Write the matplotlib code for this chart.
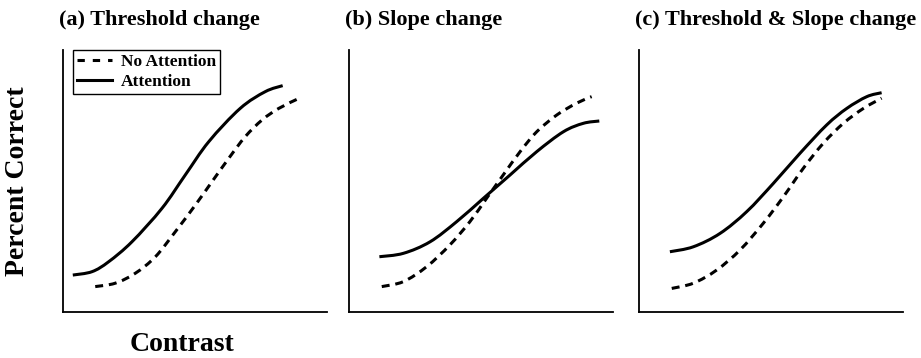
import matplotlib
matplotlib.use("Agg")
import numpy as np
import matplotlib.pyplot as plt
from matplotlib.path import Path
from matplotlib.patches import PathPatch
from matplotlib.lines import Line2D

plt.rcParams["font.family"] = ["Liberation Serif", "DejaVu Serif"]
plt.rcParams["font.weight"] = "bold"

panel_titles = ["(a) Threshold change", "(b) Slope change", "(c) Threshold & Slope change"]
legend_labels = ["No Attention", "Attention"]
y_label = "Percent Correct"
x_label = "Contrast"

# (a) threshold shift: same slope, curve moved toward lower contrast
a_att_x = [3.9, 11.2, 17.5, 26.3, 37.7, 46.5, 55.4, 67.3, 76.8, 83.4]
a_att_y = [14.1, 15.4, 19.2, 26.8, 39.6, 52.3, 65.0, 77.7, 84.1, 86.4]
a_noatt_x = [12.4, 20.0, 27.6, 35.2, 42.7, 50.3, 56.6, 63.0, 69.2, 75.6, 81.9, 89.7]
a_noatt_y = [9.7, 11.0, 14.8, 21.1, 30.6, 40.8, 49.7, 58.7, 66.9, 73.3, 77.7, 81.6]

# (b) slope change: attention flattens the function
b_att_x = [11.7, 20.8, 30.9, 41.0, 51.1, 61.2, 71.3, 81.4, 88.9, 95.0]
b_att_y = [21.1, 22.4, 26.8, 34.5, 43.4, 52.3, 61.2, 68.8, 72.0, 72.9]
b_noatt_x = [12.6, 20.8, 29.6, 38.4, 46.0, 52.3, 58.6, 65.0, 71.3, 78.9, 86.4, 92.1]
b_noatt_y = [9.7, 11.6, 17.3, 25.6, 34.5, 43.4, 52.3, 61.2, 68.8, 75.2, 79.7, 82.2]

# (c) threshold and slope change together
c_att_x = [11.7, 20.6, 30.7, 40.8, 50.9, 61.0, 71.1, 78.7, 86.3, 91.9]
c_att_y = [23.0, 24.9, 30.0, 38.3, 49.1, 60.6, 71.4, 77.7, 82.2, 83.7]
c_noatt_x = [12.4, 20.6, 29.4, 38.3, 47.1, 54.7, 62.2, 69.8, 77.4, 85.0, 91.9]
c_noatt_y = [9.0, 11.0, 16.0, 23.7, 33.9, 44.0, 54.8, 64.4, 72.0, 77.7, 81.6]

panels = [
    (a_noatt_x, a_noatt_y, a_att_x, a_att_y),
    (b_noatt_x, b_noatt_y, b_att_x, b_att_y),
    (c_noatt_x, c_noatt_y, c_att_x, c_att_y),
]

DASHES = (2.6, 1.9)
LW = 2.2


def smooth_path(xs, ys):
    """Cubic Bezier path passing through every point (Catmull-Rom tangents)."""
    p = np.column_stack([xs, ys]).astype(float)
    ext = np.vstack([p[0], p, p[-1]])
    verts = [p[0]]
    codes = [Path.MOVETO]
    for i in range(len(p) - 1):
        p0, p1, p2, p3 = ext[i], ext[i + 1], ext[i + 2], ext[i + 3]
        verts += [p1 + (p2 - p0) / 6.0, p2 - (p3 - p1) / 6.0, p2]
        codes += [Path.CURVE4] * 3
    return Path(verts, codes)


def draw_curve(ax, xs, ys, dashed):
    style = (0, DASHES) if dashed else "solid"
    patch = PathPatch(smooth_path(xs, ys), transform=ax.transData, fill=False,
                      edgecolor="black", linewidth=LW, linestyle=style,
                      capstyle="butt", joinstyle="round")
    ax.add_patch(patch)


W, H = 921, 358
fig = plt.figure(figsize=(W / 100, H / 100), dpi=100)

lefts = [62.5, 348.5, 639.0]
ax_w, ax_bottom, ax_top = 264.0, 312.0, 50.0

axes = []
for i, (nx, ny, ax_x, ax_y) in enumerate(panels):
    ax = fig.add_axes([lefts[i] / W, (H - ax_bottom) / H, ax_w / W, (ax_bottom - ax_top) / H])
    draw_curve(ax, nx, ny, dashed=True)
    draw_curve(ax, ax_x, ax_y, dashed=False)
    ax.set_xlim(0, 100)
    ax.set_ylim(0, 100)
    ax.set_xticks([])
    ax.set_yticks([])
    for side in ("top", "right"):
        ax.spines[side].set_visible(False)
    for side in ("left", "bottom"):
        ax.spines[side].set_linewidth(1.3)
        ax.spines[side].set_color("black")
    fig.text((lefts[i] - 4) / W, 1 - 25 / H, panel_titles[i], fontsize=16,
             fontweight="bold", ha="left", va="baseline")
    axes.append(ax)

handles = [
    Line2D([], [], color="black", lw=LW, dashes=(2.4, 2.6), label=legend_labels[0]),
    Line2D([], [], color="black", lw=LW, label=legend_labels[1]),
]
leg = axes[0].legend(handles=handles, loc="upper left",
                     bbox_to_anchor=((73 - 62.5) / ax_w, 1.0),
                     frameon=True, fancybox=False, edgecolor="black", framealpha=1,
                     fontsize=12.5, handlelength=2.0, handletextpad=0.5,
                     borderpad=0.25, labelspacing=0.2, borderaxespad=0.0)
leg.get_frame().set_linewidth(1.0)
for t in leg.get_texts():
    t.set_fontweight("bold")

fig.text(17 / W, 1 - 181 / H, y_label, rotation=90, fontsize=20, fontweight="bold",
         ha="center", va="center")
fig.text(182 / W, 1 - 351 / H, x_label, fontsize=20, fontweight="bold",
         ha="center", va="baseline")

fig.savefig("out.png", dpi=100)
